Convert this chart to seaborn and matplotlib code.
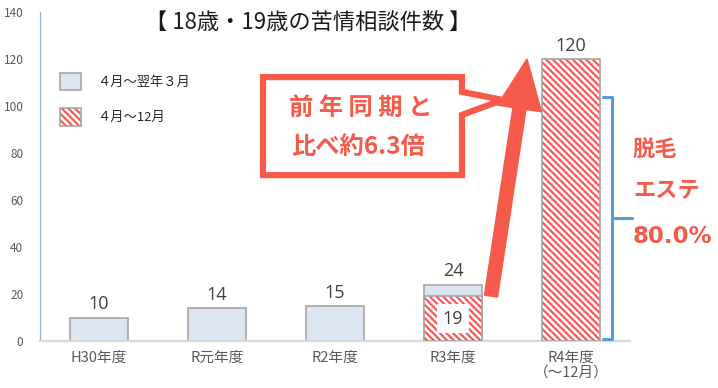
import numpy as np
import pandas as pd
import matplotlib
matplotlib.use("Agg")
import matplotlib.pyplot as plt
import seaborn as sns
from matplotlib.patches import Patch, Polygon, FancyArrowPatch
from matplotlib.legend_handler import HandlerTuple

# data
categories = ["H30年度", "R元年度", "R2年度", "R3年度", "R4年度\n（～12月）"]
full_year = [10, 14, 15, 24, np.nan]        # 4月～翌年3月
apr_dec = [np.nan, np.nan, np.nan, 19, 120]  # 4月～12月
legend_labels = ["４月～翌年３月", "４月～12月"]
title = "【 18歳・19歳の苦情相談件数 】"
callout = ["前 年 同 期 と", "比べ約6.3倍"]
side_note = ["脱毛", "エステ", "80.0%"]

BLUE_FILL = "#DCE6F2"
GRAY_EDGE = "#A6A6A6"
HATCH_RED = "#FF5050"
RED = "#F55A4A"
BRACKET = "#5B9BD5"
HATCH = "\\" * 5

sns.set_style("white")
plt.rcParams["font.family"] = ["Noto Sans CJK JP", "DejaVu Sans"]
plt.rcParams["hatch.linewidth"] = 1.5

fig = plt.figure(figsize=(7.18, 3.88), dpi=100)
ax = fig.add_axes([40 / 718, 1 - 341 / 388, 590 / 718, 329 / 388])

df = pd.DataFrame({"cat": categories, "full": full_year})
sns.barplot(data=df, x="cat", y="full", color=BLUE_FILL, saturation=1,
            width=0.49, edgecolor=GRAY_EDGE, linewidth=1.2, ax=ax)

pos = np.arange(len(categories))
hv = np.array(apr_dec, dtype=float)
mask = ~np.isnan(hv)
ax.bar(pos[mask], hv[mask], width=0.49, color="white", edgecolor=HATCH_RED,
       hatch=HATCH, linewidth=0, zorder=3)
ax.bar(pos[mask], hv[mask], width=0.49, fill=False, edgecolor=GRAY_EDGE,
       linewidth=1.2, zorder=4)

# value labels
num_font = ["Open Sans", "DejaVu Sans"]
for i, v in enumerate(full_year):
    if not np.isnan(v):
        ax.annotate(f"{int(v)}", (i, v), xytext=(0, 3), textcoords="offset points",
                    ha="center", va="bottom", fontsize=13, color="#404040",
                    family=num_font)
for i, v in enumerate(apr_dec):
    if np.isnan(v):
        continue
    if np.isnan(full_year[i]):
        ax.annotate(f"{int(v)}", (i, v), xytext=(0, 3), textcoords="offset points",
                    ha="center", va="bottom", fontsize=13, color="#404040",
                    family=num_font)
    else:
        ax.text(i, v / 2, f"{int(v)}", ha="center", va="center", fontsize=13,
                color="#404040", family=num_font, zorder=5,
                bbox=dict(boxstyle="square,pad=0.3", fc="white", ec="none"))

ax.set_xlim(-0.5, len(categories) - 0.5)
ax.set_ylim(0, 140)
ax.set_yticks(range(0, 141, 20))
ax.set_xlabel("")
ax.set_ylabel("")
ax.tick_params(axis="y", direction="in", length=4, width=0.8, color="#8DB4E2",
               labelsize=8.5, labelcolor="#595959", pad=12)
ax.tick_params(axis="x", length=0, labelsize=10.5, labelcolor="#595959", pad=7)
for lab in ax.get_xticklabels():
    lab.set_linespacing(1.1)
for s in ["top", "right"]:
    ax.spines[s].set_visible(False)
ax.spines["left"].set_color("#8DB4E2")
ax.spines["left"].set_linewidth(0.9)
ax.spines["bottom"].set_color("#D9D9D9")
ax.spines["bottom"].set_linewidth(1.6)

# title
fig.text(308 / 718, 1 - 22 / 388, title, ha="center", va="center", fontsize=16,
         color="#1a1a1a")

# legend
h1 = Patch(facecolor=BLUE_FILL, edgecolor=GRAY_EDGE, linewidth=1.2)
h2a = Patch(facecolor="white", edgecolor=HATCH_RED, hatch=HATCH, linewidth=0)
h2b = Patch(facecolor="none", edgecolor=GRAY_EDGE, linewidth=1.2)
fig.legend([h1, (h2a, h2b)], legend_labels, loc="upper left",
           bbox_to_anchor=(60 / 718, 1 - 73 / 388), bbox_transform=fig.transFigure,
           frameon=False, borderpad=0, borderaxespad=0, fontsize=9.5,
           handlelength=1.6, handleheight=1.65, labelspacing=1.35,
           handletextpad=1.2, handler_map={tuple: HandlerTuple(ndivide=1)})

# callout box
box = Polygon([(1.39, 112.3), (3.076, 112.3), (3.076, 106), (3.42, 102.6),
               (3.076, 96.2), (3.076, 70.6), (1.39, 70.6)], closed=True,
              facecolor="white", edgecolor=RED, linewidth=4.5, joinstyle="miter",
              zorder=6, clip_on=False)
ax.add_patch(box)
ax.text(2.22, 99.1, callout[0], ha="center", va="center", fontsize=17.5,
        fontweight="bold", color=RED, zorder=7)
ax.text(2.20, 82.6, callout[1], ha="center", va="center", fontsize=17.5,
        fontweight="bold", color=RED, zorder=7)

# big arrow
arrow = FancyArrowPatch((3.322, 19.1), (3.627, 120),
                        arrowstyle="simple,head_width=3.2,head_length=3.6,tail_width=0.95",
                        mutation_scale=10, color=RED, zorder=6, clip_on=False,
                        shrinkA=0, shrinkB=0)
ax.add_patch(arrow)

# bracket
bx0, bx1 = 4.271, 4.347
ax.plot([bx0, bx1, bx1, bx0], [103.8, 103.8, 0.8, 0.8], color=BRACKET,
        lw=2.2, solid_joinstyle="round", clip_on=False, zorder=5)
ax.plot([bx1, 4.517], [52.3, 52.3], color=BRACKET, lw=2.2, clip_on=False, zorder=5)
ax.text(4.525, 81.3, side_note[0], ha="left", va="center", fontsize=16,
        fontweight="bold", color=RED)
ax.text(4.525, 64.3, side_note[1], ha="left", va="center", fontsize=16,
        fontweight="bold", color=RED)
ax.text(4.525, 44.3, side_note[2], ha="left", va="center", fontsize=16.5,
        fontweight="bold", color=RED, family=["DejaVu Sans"])

fig.savefig("out.png", dpi=100)
